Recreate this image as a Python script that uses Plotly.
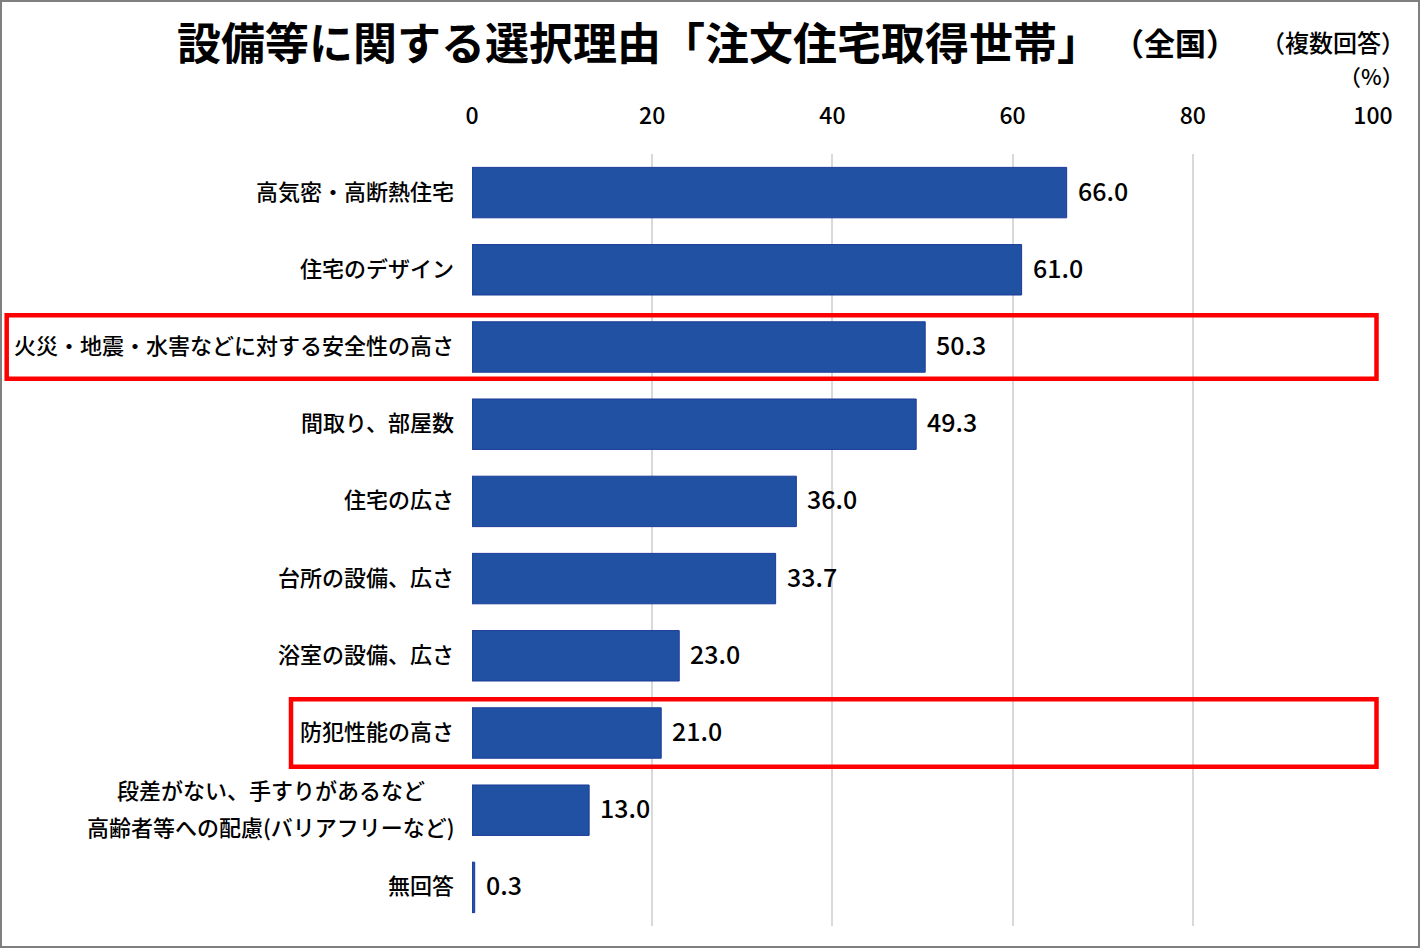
import plotly.graph_objects as go

# ---- data ----
categories = [
    "高気密・高断熱住宅",
    "住宅のデザイン",
    "火災・地震・水害などに対する安全性の高さ",
    "間取り、部屋数",
    "住宅の広さ",
    "台所の設備、広さ",
    "浴室の設備、広さ",
    "防犯性能の高さ",
    "段差がない、手すりがあるなど<br>高齢者等への配慮(バリアフリーなど)",
    "無回答",
]
values = [66.0, 61.0, 50.3, 49.3, 36.0, 33.7, 23.0, 21.0, 13.0, 0.3]
x_ticks = [0, 20, 40, 60, 80, 100]
highlighted = ["火災・地震・水害などに対する安全性の高さ", "防犯性能の高さ"]

title_text = "設備等に関する選択理由「注文住宅取得世帯」"
sub1_text = "（全国）"
sub2_text = "（複数回答）"
unit_text = "（%）"

# ---- layout geometry (pixels) ----
W, H = 1420, 948
L, R, T, B = 472, 47, 154, 22
PW = W - L - R
PH = H - T - B
FONT = "Noto Sans CJK JP"


def px(xp):
    return (xp - L) / PW


def py(yp):
    return (H - B - yp) / PH


fig = go.Figure()
fig.add_trace(go.Bar(
    x=values,
    y=list(range(len(categories))),
    orientation="h",
    marker=dict(color="#2151A2", line=dict(color="#1B3A98", width=1)),
    hoverinfo="skip",
))

annotations = []
# category labels
for i, c in enumerate(categories):
    lines = c.split("<br>")
    n = len(lines)
    if n == 1:
        annotations.append(dict(
            x=px(456), xref="paper", y=i, yref="y", text=c,
            xanchor="right", yanchor="middle", showarrow=False, yshift=3,
            font=dict(family=FONT, size=22, color="#000000", weight=500),
        ))
    else:
        for k, ln in enumerate(lines):
            annotations.append(dict(
                x=px(271), xref="paper", y=i, yref="y", text=ln,
                xanchor="center", yanchor="middle", showarrow=False,
                yshift=((n - 1) / 2 - k) * 37 + 3,
                font=dict(family=FONT, size=22, color="#000000", weight=500),
            ))

# value labels
for i, v in enumerate(values):
    annotations.append(dict(
        x=v, xref="x", y=i, yref="y", text=f"{v:.1f}",
        xanchor="left", yanchor="middle", showarrow=False, xshift=9, yshift=3,
        font=dict(family=FONT, size=25, color="#000000", weight=500),
    ))

# titles
annotations += [
    dict(x=px(175), y=py(41), xref="paper", yref="paper", text=f"<b>{title_text}</b>",
         xanchor="left", yanchor="middle", showarrow=False,
         font=dict(family=FONT, size=44, color="#000000")),
    dict(x=px(1175), y=py(42), xref="paper", yref="paper", text=f"<b>{sub1_text}</b>",
         xanchor="center", yanchor="middle", showarrow=False,
         font=dict(family=FONT, size=31, color="#000000")),
    dict(x=px(1333), y=py(42), xref="paper", yref="paper", text=sub2_text,
         xanchor="center", yanchor="middle", showarrow=False,
         font=dict(family=FONT, size=24, color="#000000", weight=500)),
    dict(x=px(1406), y=py(75), xref="paper", yref="paper", text=unit_text,
         xanchor="right", yanchor="middle", showarrow=False,
         font=dict(family=FONT, size=22, color="#000000", weight=500)),
]

shapes = [
    # outer border
    dict(type="rect", xref="paper", yref="paper",
         x0=px(1), x1=px(1419), y0=py(947), y1=py(1),
         line=dict(color="#7f7f7f", width=2), layer="above"),
]
# red highlight boxes
box_left = {highlighted[0]: 6.7, highlighted[1]: 291}
box_half = {highlighted[0]: 0.41, highlighted[1]: 0.437}
for h in highlighted:
    i = categories.index(h)
    shapes.append(dict(
        type="rect", xref="paper", yref="y",
        x0=px(box_left[h]), x1=px(1376.5),
        y0=i - box_half[h], y1=i + box_half[h],
        line=dict(color="#FF0000", width=4.5), layer="above",
    ))

fig.update_layout(
    width=W, height=H,
    margin=dict(l=L, r=R, t=T, b=B, autoexpand=False),
    paper_bgcolor="white", plot_bgcolor="white",
    showlegend=False,
    bargap=0.347,
    font=dict(family=FONT, color="#000000"),
    annotations=annotations,
    shapes=shapes,
    xaxis=dict(
        side="top", range=[0, 100], tickvals=x_ticks,
        ticktext=[str(t) for t in x_ticks],
        showgrid=True, gridcolor="#D9D9D9", gridwidth=1.5,
        zeroline=False, showline=False, ticks="",
        tickfont=dict(family=FONT, size=23, color="#000000", weight=500),
        ticklabelstandoff=24,
        fixedrange=True,
    ),
    yaxis=dict(
        range=[len(categories) - 0.5, -0.5],
        showticklabels=False, showgrid=False, zeroline=False,
        showline=False, ticks="", fixedrange=True,
    ),
)

fig.write_html(
    "out.html",
    config={"displayModeBar": False},
    post_script="document.body.style.margin='0';document.body.style.padding='0';",
)
